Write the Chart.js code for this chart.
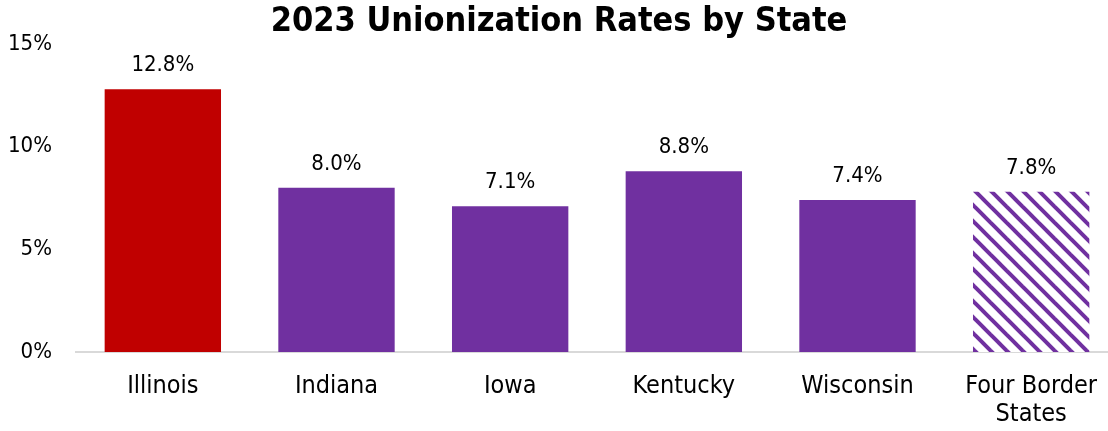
<!DOCTYPE html>
<html>
<head>
<meta charset="utf-8">
<script src="https://cdn.jsdelivr.net/npm/chart.js@4.4.1/dist/chart.umd.min.js"></script>
<style>
  html, body { margin: 0; padding: 0; background: #fff; overflow: hidden; }
  #wrap { width: 1118px; height: 431px; }
</style>
</head>
<body>
<div id="wrap"><canvas id="unionChart"></canvas></div>
<script>
/* ================================
   Data
================================ */
const states = ["Illinois", "Indiana", "Iowa", "Kentucky", "Wisconsin", ["Four Border", "States"]];
const rates = [12.8, 8.0, 7.1, 8.8, 7.4, 7.8];
const rateLabels = ["12.8%", "8.0%", "7.1%", "8.8%", "7.4%", "7.8%"];
const yTicks = [0, 5, 10, 15];

const FONT = "'DejaVu Sans Condensed', 'DejaVu Sans', sans-serif";
const RED = "#C00000";
const PURPLE = "#7030A0";

/* ================================
   Hatch pattern for the average bar
================================ */
function makeHatch() {
  const p = 16;
  const c = document.createElement("canvas");
  c.width = p;
  c.height = p;
  const g = c.getContext("2d");
  g.fillStyle = "#fff";
  g.fillRect(0, 0, p, p);
  g.strokeStyle = PURPLE;
  g.lineWidth = 4;
  for (let k = -1; k <= 1; k++) {
    g.beginPath();
    g.moveTo(k * p - p, -p);
    g.lineTo(k * p + 2 * p, 2 * p);
    g.stroke();
  }
  return g.createPattern(c, "repeat");
}

const hatch = makeHatch();
const barColors = [RED, PURPLE, PURPLE, PURPLE, PURPLE, hatch];

/* ================================
   Value labels above bars
================================ */
const valueLabels = {
  id: "valueLabels",
  afterDatasetsDraw(chart) {
    const ctx = chart.ctx;
    const meta = chart.getDatasetMeta(0);
    ctx.save();
    ctx.font = "22px " + FONT;
    ctx.fillStyle = "#000";
    ctx.textAlign = "center";
    ctx.textBaseline = "alphabetic";
    meta.data.forEach((bar, i) => {
      ctx.fillText(rateLabels[i], bar.x, bar.y - 18);
    });
    ctx.restore();
  }
};

/* ================================
   Chart
================================ */
new Chart(document.getElementById("unionChart"), {
  type: "bar",
  data: {
    labels: states,
    datasets: [{
      data: rates,
      backgroundColor: barColors,
      borderWidth: 0,
      barPercentage: 0.67,
      categoryPercentage: 1
    }]
  },
  options: {
    responsive: true,
    maintainAspectRatio: false,
    animation: false,
    layout: { padding: 0 },
    plugins: {
      legend: { display: false },
      tooltip: { enabled: false },
      title: {
        display: true,
        text: "2023 Unionization Rates by State",
        color: "#000",
        font: { family: FONT, size: 34, weight: "bold", lineHeight: 1.0 },
        padding: { top: 5, bottom: 5 }
      }
    },
    scales: {
      x: {
        grid: { display: false, drawTicks: false },
        border: { display: true, color: "#D9D9D9", width: 2 },
        afterFit(scale) { scale.height = 79; },
        ticks: {
          color: "#000",
          padding: 20,
          maxRotation: 0,
          font: { family: FONT, size: 25, lineHeight: 1.12 }
        }
      },
      y: {
        min: 0,
        max: 15,
        grid: { display: false, drawTicks: false },
        border: { display: false },
        afterFit(scale) { scale.width = 76; },
        afterBuildTicks(scale) { scale.ticks = yTicks.map(v => ({ value: v })); },
        ticks: {
          color: "#000",
          padding: 24,
          font: { family: FONT, size: 22 },
          callback: v => v + "%"
        }
      }
    }
  },
  plugins: [valueLabels]
});
</script>
</body>
</html>
